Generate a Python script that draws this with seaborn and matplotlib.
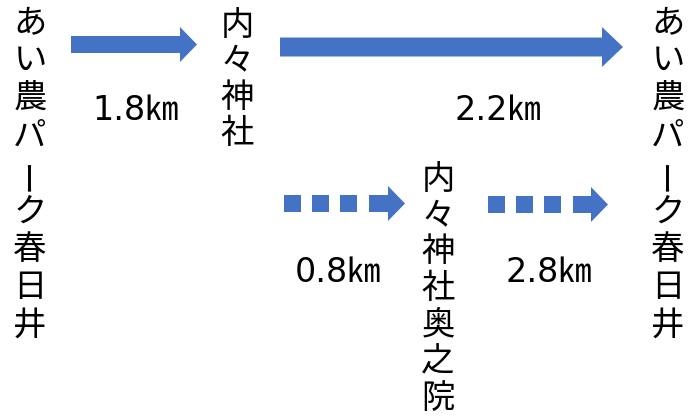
import matplotlib
matplotlib.use("Agg")
import matplotlib.pyplot as plt
import seaborn as sns
from matplotlib.patches import Rectangle

# route data
main_stops = ['あい農パーク春日井', '内々神社', 'あい農パーク春日井']
main_dists = ['1.8㎞', '2.2㎞']
side_stop = '内々神社奥之院'
side_dists = ['0.8㎞', '2.8㎞']

BLUE = '#4472C4'
FS = 24
LABEL_FONT = ['DejaVu Sans', 'Noto Sans CJK JP']


def vtext(ax, x, y0, step, word):
    # write a word top-to-bottom, one character per line
    for i, ch in enumerate(word):
        rot = 90 if ch == 'ー' else 0
        ax.text(x, y0 + i * step, ch, ha='center', va='center',
                fontsize=FS, rotation=rot, color='black')


def dist_label(ax, x, y, s):
    ax.text(x, y, s, ha='center', va='center', fontsize=FS,
            family=LABEL_FONT, color='black')


def block_arrow(ax, x0, x1, y, body, head, head_len):
    ax.arrow(x0, y, x1 - x0, 0, width=body, head_width=head,
             head_length=head_len, length_includes_head=True,
             color=BLUE, lw=0)


def dotted_arrow(ax, x0, x1, y):
    side = 17
    pitch = 28
    for k in range(3):
        ax.add_patch(Rectangle((x0 + k * pitch, y - side / 2), side, side,
                               color=BLUE, lw=0))
    block_arrow(ax, x0 + 3 * pitch + 1, x1, y, 17, 35, 17)


def main():
    sns.set_theme(style='white')
    plt.rcParams['font.family'] = ['Noto Sans CJK JP', 'DejaVu Sans']

    fig = plt.figure(figsize=(6.98, 4.2), dpi=100)
    ax = fig.add_axes([0, 0, 1, 1])
    ax.set_xlim(0, 698)
    ax.set_ylim(420, 0)
    ax.axis('off')

    # station columns
    vtext(ax, 30, 23, 37.75, main_stops[0])
    vtext(ax, 237, 25, 36, main_stops[1])
    vtext(ax, 668, 23, 37.75, main_stops[2])
    vtext(ax, 438, 179, 36.5, side_stop)

    # main route
    block_arrow(ax, 71, 197, 44.5, 17, 35, 17)
    block_arrow(ax, 280, 623, 47, 19, 40, 21)
    dist_label(ax, 136, 110, main_dists[0])
    dist_label(ax, 498, 110, main_dists[1])

    # detour via the inner shrine
    dotted_arrow(ax, 284, 405, 203.5)
    dotted_arrow(ax, 488, 608, 204.5)
    dist_label(ax, 338, 272, side_dists[0])
    dist_label(ax, 549, 272, side_dists[1])

    fig.savefig('out.png', dpi=100)


if __name__ == "__main__":
    main()
